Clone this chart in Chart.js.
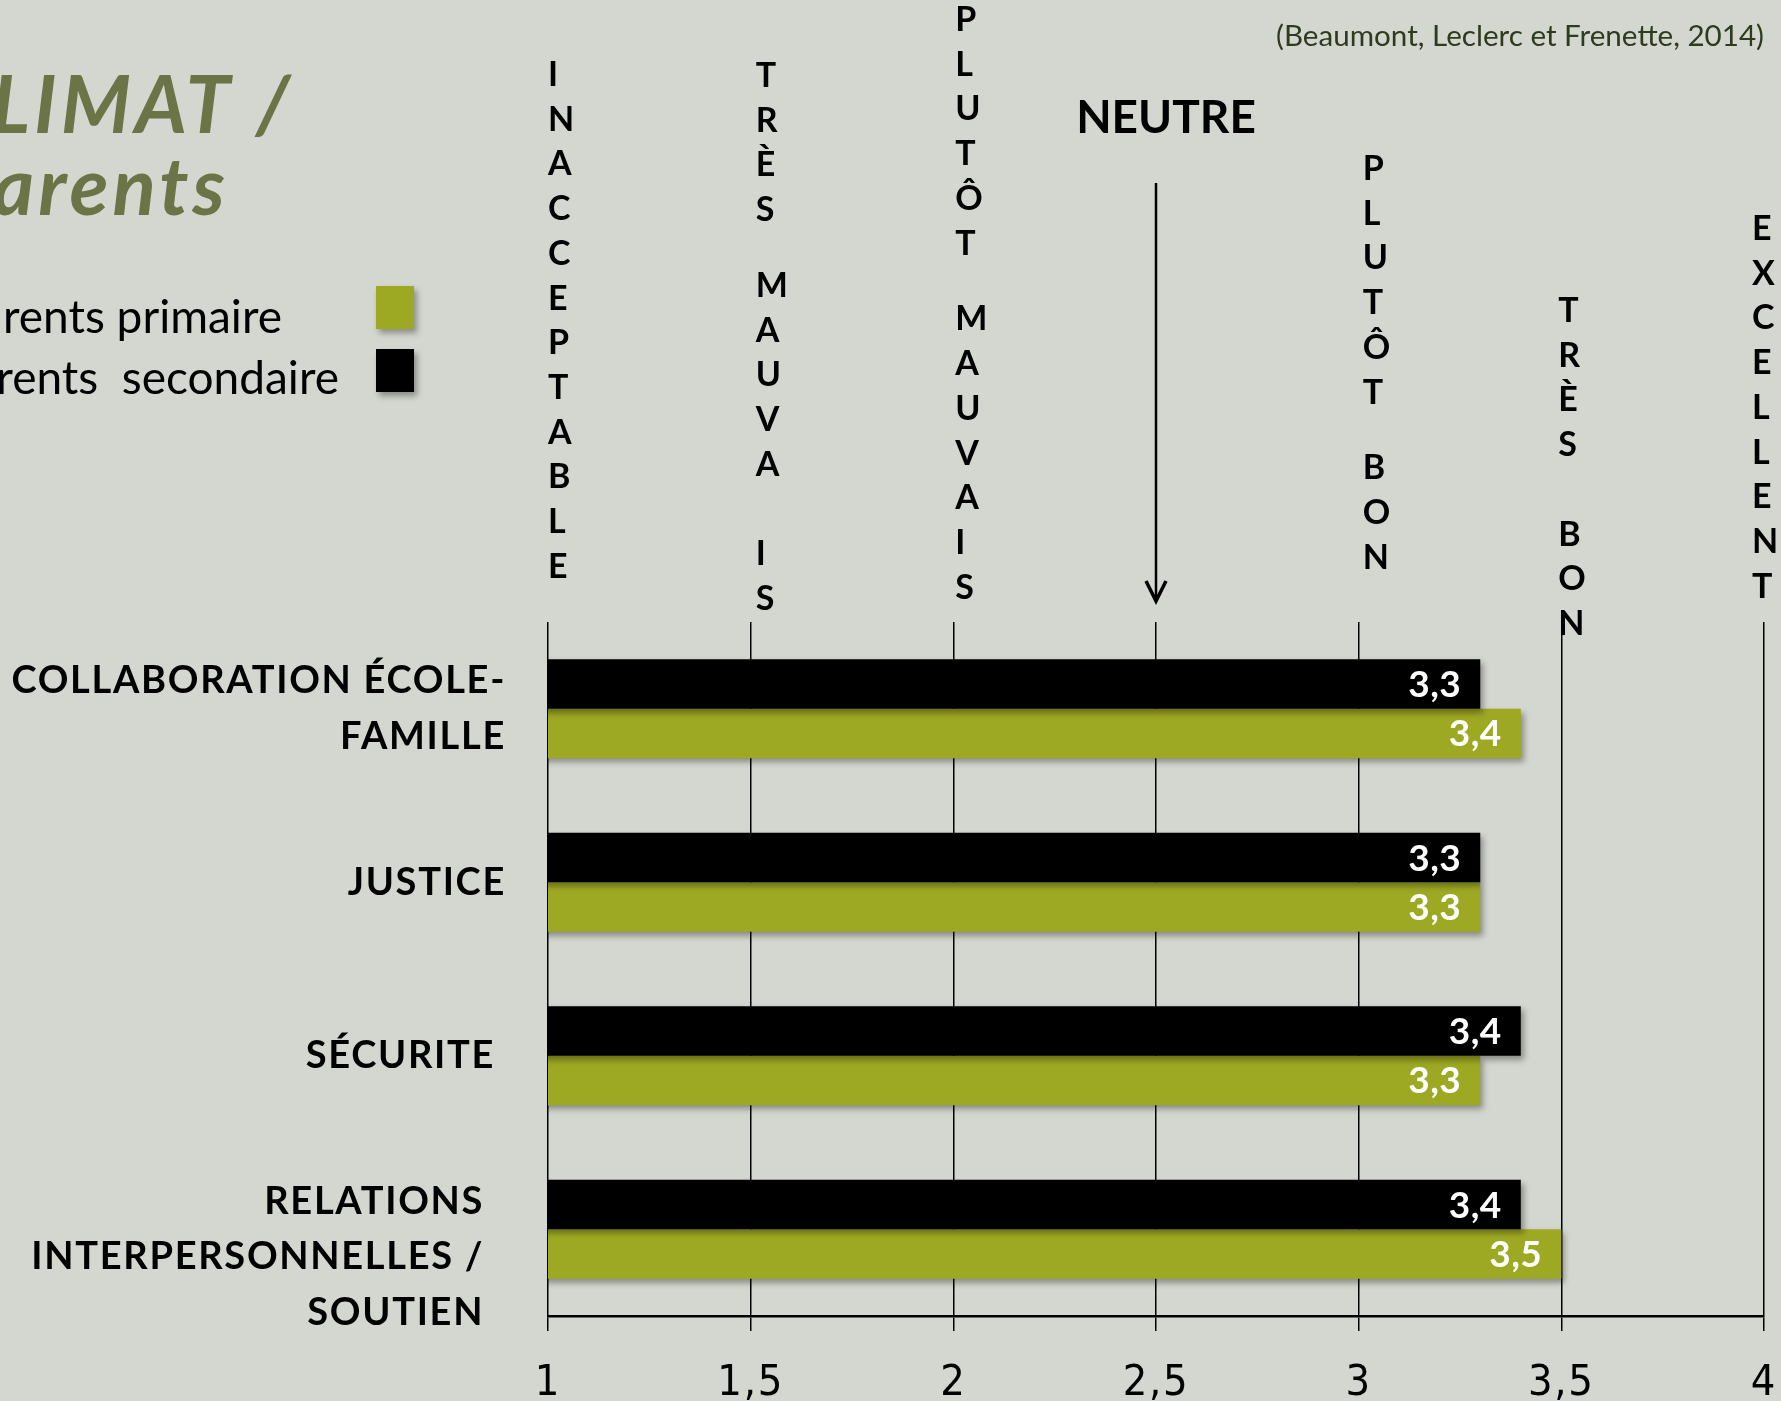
<!DOCTYPE html>
<html>
<head>
<meta charset="utf-8">
<script src="https://cdn.jsdelivr.net/npm/chart.js@4/dist/chart.umd.min.js"></script>
<style>
  html, body { margin: 0; padding: 0; background: #d4d7cf; overflow: hidden; }
  #wrap { width: 1781px; height: 1401px; position: relative; }
</style>
</head>
<body>
<div id="wrap"><canvas id="chart"></canvas></div>
<script>
// categories (y axis), top to bottom
const categories = [
    ['COLLABORATION ÉCOLE-', 'FAMILLE'],
    'JUSTICE',
    'SÉCURITE ',
    ['', 'RELATIONS  ', 'INTERPERSONNELLES /  ', 'SOUTIEN  ']
];
const secondaire = [3.3, 3.3, 3.4, 3.4];
const primaire = [3.4, 3.3, 3.3, 3.5];
const xTickLabels = ['1', '1,5', '2', '2,5', '3', '3,5', '4'];

// stacked letter labels above the grid lines
const scaleLabels = [
    { value: 1, text: 'INACCEPTABLE', top: 74, dx: 0 },
    { value: 1.5, text: 'TRÈS MAUVA\nIS', top: 75, dx: 5 },
    { value: 2, text: 'PLUTÔT MAUVAIS', top: 19, dx: 2 },
    { value: 3, text: 'PLUTÔT BON', top: 168, dx: 4 },
    { value: 3.5, text: 'TRÈS\nBON', top: 310, dx: -3 },
    { value: 4, text: 'EXCELLENT', top: 228, dx: -12 }
];

const bg = '#d4d7cf';
const green = '#9da823';
const fontName = 'Lato';

function fmt(v) {
    return v.toString().replace('.', ',');
}

const decorations = {
    id: 'decorations',
    beforeDraw(chart) {
        const ctx = chart.ctx;
        ctx.save();
        ctx.fillStyle = bg;
        ctx.fillRect(0, 0, chart.width, chart.height);
        ctx.restore();
        // a bit of tracking for the axis labels (Calibri-like width)
        ctx.letterSpacing = '1.7px';
    },
    beforeDatasetsDraw(chart) {
        const ctx = chart.ctx;
        ctx.letterSpacing = '0px';
        ctx.save();
        ctx.shadowColor = 'rgba(0,0,0,0.35)';
        ctx.shadowOffsetX = 3;
        ctx.shadowOffsetY = 4;
        ctx.shadowBlur = 6;
    },
    afterDatasetsDraw(chart) {
        const ctx = chart.ctx;
        ctx.restore();
        // value labels inside bars
        ctx.save();
        ctx.fillStyle = '#fff';
        ctx.font = 'bold 37px ' + fontName;
        ctx.letterSpacing = '0.5px';
        ctx.textAlign = 'right';
        ctx.textBaseline = 'alphabetic';
        chart.data.datasets.forEach((ds, di) => {
            const meta = chart.getDatasetMeta(di);
            meta.data.forEach((bar, i) => {
                ctx.fillText(fmt(ds.data[i]), bar.x - 19, bar.y + 13);
            });
        });
        ctx.restore();
    },
    afterDraw(chart) {
        const ctx = chart.ctx;
        const xs = chart.scales.x;
        ctx.save();

        // title
        ctx.fillStyle = '#6a7446';
        ctx.textAlign = 'right';
        ctx.font = 'italic bold 80px ' + fontName;
        ctx.letterSpacing = '4px';
        ctx.fillText('CLIMAT /', 294, 133);
        ctx.fillText('Parents', 229, 215);

        // legend
        ctx.letterSpacing = '0px';
        ctx.fillStyle = '#000';
        ctx.font = '46px ' + fontName;
        ctx.fillText('Parents primaire', 282, 333);
        ctx.fillText('Parents  secondaire', 339, 394);
        ctx.save();
        ctx.shadowColor = 'rgba(0,0,0,0.35)';
        ctx.shadowOffsetX = 3;
        ctx.shadowOffsetY = 4;
        ctx.shadowBlur = 6;
        ctx.fillStyle = green;
        ctx.fillRect(376, 286, 38, 43);
        ctx.fillStyle = '#000';
        ctx.fillRect(376, 349, 38, 43);
        ctx.restore();

        // source
        ctx.fillStyle = '#2d3b1e';
        ctx.font = '29.6px ' + fontName;
        ctx.fillText('(Beaumont, Leclerc et Frenette, 2014)', 1764, 46);

        // NEUTRE + arrow
        const xn = xs.getPixelForValue(2.5);
        ctx.fillStyle = '#000';
        ctx.textAlign = 'center';
        ctx.font = 'bold 46px ' + fontName;
        ctx.fillText('NEUTRE', xn + 10, 133);
        ctx.strokeStyle = '#000';
        ctx.lineWidth = 2.5;
        ctx.beginPath();
        ctx.moveTo(xn, 183);
        ctx.lineTo(xn, 600);
        ctx.stroke();
        ctx.lineWidth = 3.5;
        ctx.beginPath();
        ctx.moveTo(xn - 10, 581);
        ctx.lineTo(xn, 601);
        ctx.lineTo(xn + 10, 581);
        ctx.stroke();

        // stacked letters
        const step = 44.7;
        ctx.textAlign = 'left';
        ctx.font = 'bold 34px ' + fontName;
        scaleLabels.forEach(lab => {
            const x = xs.getPixelForValue(lab.value) + lab.dx;
            let y = lab.top;
            for (const ch of lab.text) {
                if (ch === ' ') { y += step * 0.7; continue; }
                if (ch === '\n') { y += step; continue; }
                ctx.fillText(ch, x, y + 12);
                y += step;
            }
        });
        ctx.restore();
    }
};

function draw() {
    const ctx = document.getElementById('chart').getContext('2d');
    new Chart(ctx, {
        type: 'bar',
        data: {
            labels: categories,
            datasets: [{
                label: 'Parents secondaire',
                data: secondaire,
                backgroundColor: '#000',
                borderWidth: 0
            }, {
                label: 'Parents primaire',
                data: primaire,
                backgroundColor: green,
                borderWidth: 0
            }]
        },
        options: {
            indexAxis: 'y',
            responsive: true,
            maintainAspectRatio: false,
            animation: false,
            categoryPercentage: 0.57,
            barPercentage: 1,
            layout: { padding: { top: 622, right: 17, bottom: 0, left: 0 } },
            plugins: {
                legend: { display: false },
                tooltip: { enabled: false }
            },
            scales: {
                x: {
                    type: 'linear',
                    position: 'bottom',
                    min: 1,
                    max: 4,
                    ticks: {
                        stepSize: 0.5,
                        callback: (v, i) => xTickLabels[i],
                        color: '#000',
                        font: { family: "'Liberation Sans Narrow', 'DejaVu Sans Condensed', 'Liberation Sans'", size: 43 },
                        padding: 27,
                        maxRotation: 0
                    },
                    grid: { color: '#000', lineWidth: 1.5, tickLength: 15 },
                    border: { color: '#000', width: 2.5 },
                    afterFit: s => {
                        s.height = 85;
                        s.paddingLeft = 0;
                        s.paddingRight = 0;
                    }
                },
                y: {
                    ticks: {
                        color: '#000',
                        font: { family: fontName, weight: 'bold', size: 38, lineHeight: 1.47 },
                        padding: 42,
                        autoSkip: false
                    },
                    grid: { display: false, drawTicks: false },
                    border: { display: false },
                    afterFit: s => {
                        s.width = 548;
                        s.paddingTop = 0;
                        s.paddingBottom = 0;
                    }
                }
            }
        },
        plugins: [decorations]
    });
}

const fontsToLoad = ['bold 38px Lato', 'italic bold 80px Lato', '46px Lato', '43px "Liberation Sans Narrow"'];
Promise.all(fontsToLoad.map(f => document.fonts.load(f).catch(() => null))).then(draw, draw);
</script>
</body>
</html>
